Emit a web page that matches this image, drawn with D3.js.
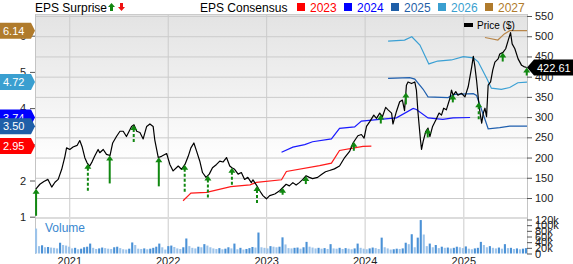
<!DOCTYPE html>
<html>
<head>
<meta charset="utf-8">
<script src="https://cdn.jsdelivr.net/npm/d3@7"></script>
<style>
body { margin: 0; background: #fff; }
svg text { font-family: "Liberation Sans", Arial, sans-serif; }
</style>
</head>
<body>
<div id="chart"></div>
<script>
///////////////////////////////////////////////////////////////
// Data
///////////////////////////////////////////////////////////////

var priceTicks = [100, 150, 200, 250, 300, 350, 400, 450, 500, 550];
var epsTicks = [1, 2, 3, 4, 5, 6];
var volumeTicks = [0, 20, 40, 60, 80, 100, 120];
var seriesYears = ['2023', '2024', '2025', '2026', '2027'];

var price = [
['2020-08-30', 122], ['2020-09-14', 134], ['2020-09-29', 141], ['2020-10-14', 146], ['2020-10-28', 127],
['2020-11-09', 139], ['2020-11-21', 146], ['2020-12-04', 171], ['2020-12-16', 203], ['2020-12-22', 224],
['2021-01-03', 220], ['2021-01-15', 226], ['2021-01-30', 230], ['2021-02-09', 242], ['2021-02-18', 226],
['2021-02-28', 199], ['2021-03-08', 187], ['2021-03-18', 179], ['2021-03-27', 190], ['2021-04-05', 203],
['2021-04-18', 220], ['2021-04-24', 212], ['2021-05-07', 220], ['2021-05-19', 208], ['2021-06-01', 205],
['2021-06-11', 236], ['2021-06-25', 252], ['2021-07-08', 265], ['2021-07-20', 265], ['2021-08-01', 252],
['2021-08-20', 277], ['2021-08-29', 281], ['2021-09-08', 265], ['2021-09-20', 262], ['2021-10-02', 246],
['2021-10-15', 277], ['2021-10-27', 283], ['2021-11-08', 277], ['2021-11-14', 244], ['2021-11-27', 200],
['2021-12-09', 203], ['2021-12-28', 210], ['2022-01-09', 183], ['2022-01-21', 167], ['2022-02-09', 179],
['2022-02-21', 171], ['2022-03-06', 183], ['2022-03-18', 203], ['2022-03-28', 224], ['2022-04-08', 236],
['2022-04-18', 216], ['2022-04-30', 191], ['2022-05-10', 163], ['2022-05-23', 151], ['2022-06-04', 159],
['2022-06-16', 175], ['2022-07-01', 183], ['2022-07-13', 191], ['2022-07-25', 189], ['2022-08-07', 200],
['2022-08-19', 179], ['2022-08-27', 175], ['2022-09-06', 171], ['2022-09-19', 159], ['2022-10-01', 163],
['2022-10-13', 146], ['2022-10-25', 151], ['2022-11-07', 138], ['2022-11-13', 145], ['2022-11-26', 132],
['2022-12-08', 118], ['2022-12-20', 106], ['2023-01-02', 98], ['2023-01-14', 106], ['2023-02-02', 110],
['2023-02-20', 118], ['2023-03-04', 126], ['2023-03-16', 134], ['2023-03-28', 130], ['2023-04-10', 138],
['2023-04-22', 132], ['2023-05-04', 138], ['2023-05-17', 146], ['2023-05-29', 155], ['2023-06-10', 151],
['2023-06-22', 148], ['2023-07-11', 151], ['2023-07-25', 158], ['2023-08-09', 165], ['2023-08-24', 168],
['2023-09-11', 172], ['2023-09-30', 179], ['2023-10-19', 200], ['2023-11-07', 216], ['2023-11-19', 236],
['2023-12-07', 254], ['2023-12-20', 257], ['2023-12-30', 248], ['2024-01-08', 277], ['2024-01-20', 289],
['2024-02-04', 305], ['2024-02-14', 297], ['2024-02-26', 310], ['2024-03-07', 301], ['2024-03-19', 324],
['2024-03-28', 318], ['2024-04-10', 310], ['2024-04-15', 283], ['2024-04-28', 314], ['2024-05-10', 338],
['2024-05-20', 342], ['2024-05-28', 316], ['2024-06-04', 379], ['2024-06-10', 387], ['2024-06-23', 383],
['2024-07-05', 387], ['2024-07-11', 367], ['2024-07-17', 310], ['2024-07-26', 244], ['2024-07-30', 220],
['2024-08-05', 240], ['2024-08-15', 265], ['2024-08-23', 273], ['2024-08-30', 252], ['2024-09-09', 277],
['2024-09-21', 293], ['2024-10-03', 310], ['2024-10-12', 305], ['2024-10-20', 322], ['2024-10-30', 318],
['2024-11-12', 346], ['2024-11-18', 367], ['2024-11-24', 354], ['2024-12-04', 363], ['2024-12-12', 354],
['2024-12-25', 359], ['2025-01-07', 350], ['2025-01-19', 375], ['2025-02-01', 424], ['2025-02-07', 450],
['2025-02-13', 424], ['2025-02-19', 391], ['2025-02-28', 330], ['2025-03-04', 310], ['2025-03-10', 285],
['2025-03-16', 310], ['2025-03-22', 322], ['2025-03-28', 301], ['2025-04-03', 379], ['2025-04-12', 387],
['2025-04-20', 416], ['2025-04-28', 436], ['2025-05-10', 444], ['2025-05-16', 456], ['2025-05-28', 460],
['2025-06-07', 469], ['2025-06-16', 489], ['2025-06-25', 509], ['2025-07-01', 481], ['2025-07-11', 469],
['2025-07-23', 444], ['2025-08-05', 428], ['2025-08-13', 425], ['2025-08-24', 422.61]
];

var eps2023 = [
['2022-02-27', 1.44], ['2022-03-28', 1.65], ['2022-05-25', 1.67], ['2022-08-23', 1.83], ['2022-11-02', 1.88],
['2022-11-26', 1.95], ['2023-02-27', 2.02], ['2023-03-17', 2.25], ['2023-07-18', 2.41], ['2023-08-31', 2.48],
['2023-09-30', 2.83], ['2023-12-26', 2.94], ['2024-01-26', 2.95]
];
var eps2024 = [
['2023-02-27', 2.78], ['2023-04-10', 2.92], ['2023-05-24', 2.99], ['2023-06-22', 3.07], ['2023-08-31', 3.15],
['2023-09-30', 3.44], ['2023-11-25', 3.48], ['2023-12-20', 3.64], ['2024-02-26', 3.69], ['2024-04-28', 3.73],
['2024-06-29', 3.99], ['2024-07-11', 3.96], ['2024-08-23', 3.73], ['2024-10-17', 3.69], ['2024-11-24', 3.73],
['2025-01-26', 3.74]
];
var eps2025 = [
['2024-03-28', 4.82], ['2024-06-16', 4.84], ['2024-07-05', 4.80], ['2024-08-05', 4.52], ['2024-08-23', 4.31],
['2024-11-05', 4.29], ['2024-11-30', 4.38], ['2025-02-07', 4.40], ['2025-02-19', 4.35], ['2025-03-22', 3.69],
['2025-04-03', 3.43], ['2025-05-16', 3.46], ['2025-06-22', 3.50], ['2025-08-25', 3.50]
];
var eps2026 = [
['2024-03-28', 5.85], ['2024-05-28', 5.88], ['2024-06-24', 5.97], ['2024-07-24', 5.74], ['2024-08-26', 5.22],
['2024-09-28', 5.30], ['2024-11-18', 5.33], ['2025-01-01', 5.42], ['2025-02-07', 5.39], ['2025-02-25', 5.28],
['2025-03-29', 4.82], ['2025-04-15', 4.55], ['2025-05-22', 4.52], ['2025-06-22', 4.57], ['2025-07-22', 4.70],
['2025-08-25', 4.72]
];
var eps2027 = [
['2025-03-22', 5.95], ['2025-05-09', 5.88], ['2025-06-02', 6.05], ['2025-06-22', 6.14], ['2025-08-25', 6.14]
];

// quarterly EPS surprise (%), all beats
var surpriseDates = ['2020-08-31', '2021-03-11', '2021-05-31', '2021-08-28', '2021-11-29', '2022-03-05',
'2022-05-30', '2022-08-27', '2022-11-28', '2023-03-03', '2023-05-28', '2023-11-22', '2024-03-01',
'2024-06-02', '2024-08-22', '2024-11-23', '2025-02-27', '2025-05-27', '2025-08-24'];
var surpriseValues = [27, 28, 28, 18, 29, 28, 23, 18, 17, 7, 8, 9, 9, 12, 9, 8, 18, 9, 8];
var surpriseRevised = [false, true, false, true, false, true, true, true, true, false, false, false, false,
false, false, false, true, false, false];

// volume in thousands
var volume = [
88, 26, 29, 22, 23, 21, 20, 18, 38, 30, 28, 24, 18, 20, 15, 17, 22, 24, 35, 20,
16, 18, 21, 19, 17, 16, 22, 24, 19, 15, 14, 17, 39, 30, 17, 16, 18, 15, 17, 20,
24, 35, 22, 14, 26, 28, 23, 18, 16, 22, 53, 26, 20, 18, 24, 22, 33, 28, 22, 18,
16, 19, 15, 17, 22, 18, 35, 15, 20, 14, 16, 19, 23, 21, 74, 22, 20, 18, 26, 24,
22, 24, 57, 32, 19, 18, 20, 21, 17, 22, 41, 24, 21, 18, 20, 17, 19, 16, 33, 18,
17, 20, 16, 19, 17, 15, 18, 35, 20, 17, 15, 18, 21, 19, 16, 56, 22, 18, 14, 15,
17, 16, 18, 38, 33, 68, 22, 56, 118, 67, 26, 35, 22, 30, 19, 24, 20, 21, 18, 20,
24, 22, 19, 25, 17, 15, 18, 20, 41, 30, 22, 26, 20, 18, 21, 17, 33, 19, 20, 16,
18, 15, 17, 19
];
var volumeStart = '2020-08-27', volumeEnd = '2025-08-25';

///////////////////////////////////////////////////////////////
// Setup
///////////////////////////////////////////////////////////////

var W = 573, H = 264;
var plotLeft = 35, plotRight = 527, plotTop = 14, mainBottom = 217, volBottom = 254;
var width = plotRight - plotLeft;

var colors = { '2023': '#ff1a1a', '2024': '#1a1aff', '2025': '#1f5fae', '2026': '#3ba0d4', '2027': '#b8864a' };
var badgeColors = { '2023': '#ff0000', '2024': '#0000ff', '2025': '#1f5fa8', '2026': '#3a9fd0', '2027': '#b07b2c' };
var epsSeries = { '2023': eps2023, '2024': eps2024, '2025': eps2025, '2026': eps2026, '2027': eps2027 };

var parse = d3.timeParse('%Y-%m-%d');

var x = d3.scaleTime()
    .domain([parse('2020-08-27'), parse('2025-08-25')])
    .range([plotLeft, plotRight]);
var yPrice = d3.scaleLinear().domain([100, 550]).range([198, 16]);
var yEps = d3.scaleLinear().domain([1, 6]).range([216.7, 35.7]);
var yVol = d3.scaleLinear().domain([0, 120]).range([253.5, 219.5]);
var arrowLen = d3.scaleLinear().domain([0, 30]).range([0, 30]);

var svg = d3.select('#chart').append('svg')
    .attr('width', W)
    .attr('height', H);

var defs = svg.append('defs');
var grad = defs.append('linearGradient')
    .attr('id', 'bg')
    .attr('x1', 0).attr('x2', 0).attr('y1', 0).attr('y2', 1);
grad.append('stop').attr('offset', '0%').attr('stop-color', '#e3e3e3');
grad.append('stop').attr('offset', '75%').attr('stop-color', '#ffffff');

defs.append('clipPath').attr('id', 'clip')
    .append('rect')
    .attr('x', plotLeft).attr('y', plotTop)
    .attr('width', width).attr('height', mainBottom - plotTop);

///////////////////////////////////////////////////////////////
// Background and grid
///////////////////////////////////////////////////////////////

svg.append('rect')
    .attr('x', plotLeft).attr('y', plotTop)
    .attr('width', width).attr('height', mainBottom - plotTop)
    .attr('fill', 'url(#bg)');

svg.append('g')
    .attr('transform', 'translate(' + plotLeft + ',0)')
    .call(d3.axisLeft(yPrice).tickValues(priceTicks).tickSize(-width).tickFormat(''))
    .call(g => g.select('.domain').remove())
    .selectAll('line').attr('stroke', '#cbcbcb');

svg.append('g')
    .attr('transform', 'translate(0,' + volBottom + ')')
    .call(d3.axisBottom(x).ticks(d3.timeYear.every(1)).tickSize(-(volBottom - plotTop)).tickFormat(''))
    .call(g => g.select('.domain').remove())
    .selectAll('line').attr('stroke', '#cbcbcb');

// panel borders
svg.append('rect')
    .attr('x', plotLeft).attr('y', mainBottom)
    .attr('width', width).attr('height', 2)
    .attr('fill', '#dcdcdc');
svg.append('line')
    .attr('x1', plotLeft).attr('x2', plotRight).attr('y1', plotTop + 0.5).attr('y2', plotTop + 0.5)
    .attr('stroke', '#cbcbcb');
[plotLeft, plotRight].forEach(function (px) {
    svg.append('line')
        .attr('x1', px + 0.5).attr('x2', px + 0.5).attr('y1', plotTop).attr('y2', volBottom)
        .attr('stroke', '#c4c4c4');
});

///////////////////////////////////////////////////////////////
// Volume
///////////////////////////////////////////////////////////////

var xVol = d3.scaleBand()
    .domain(d3.range(volume.length))
    .range([x(parse(volumeStart)), x(parse(volumeEnd))])
    .paddingInner(0.3);

svg.selectAll('.vol')
    .data(volume)
    .enter()
    .append('rect')
    .attr('class', 'vol')
    .attr('x', (d, i) => xVol(i))
    .attr('y', d => yVol(d))
    .attr('width', xVol.bandwidth())
    .attr('height', d => yVol(0) - yVol(d))
    .attr('fill', (d, i) => i > 0 && d > volume[i - 1] ? '#4a91d6' : '#9cc3ea');

svg.append('text')
    .attr('x', 45).attr('y', 232)
    .attr('font-size', 12)
    .attr('fill', '#3a88d0')
    .text('Volume');

///////////////////////////////////////////////////////////////
// EPS consensus lines and price
///////////////////////////////////////////////////////////////

var plot = svg.append('g').attr('clip-path', 'url(#clip)');

var epsLine = d3.line()
    .x(d => x(parse(d[0])))
    .y(d => yEps(d[1]));

seriesYears.forEach(function (yr) {
    plot.append('path')
        .datum(epsSeries[yr])
        .attr('d', epsLine)
        .attr('fill', 'none')
        .attr('stroke', colors[yr])
        .attr('stroke-width', 1.2);
});

var priceLine = d3.line()
    .x(d => x(parse(d[0])))
    .y(d => yPrice(d[1]));

plot.append('path')
    .datum(price)
    .attr('d', priceLine)
    .attr('fill', 'none')
    .attr('stroke', '#000')
    .attr('stroke-width', 1.2)
    .attr('stroke-linejoin', 'round');

// surprise arrows, tip sits on the price line
var bisect = d3.bisector(d => parse(d[0])).left;
function priceAt(date) {
    var i = bisect(price, date);
    if (i <= 0) return price[0][1];
    if (i >= price.length) return price[price.length - 1][1];
    var a = price[i - 1], b = price[i];
    var t = (date - parse(a[0])) / (parse(b[0]) - parse(a[0]));
    return a[1] + (b[1] - a[1]) * t;
}

surpriseDates.forEach(function (ds, i) {
    var dt = parse(ds);
    var px = x(dt);
    var tip = yPrice(priceAt(dt));
    var base = tip + arrowLen(surpriseValues[i]);
    svg.append('line')
        .attr('x1', px).attr('x2', px)
        .attr('y1', tip + 4).attr('y2', base)
        .attr('stroke', '#118811')
        .attr('stroke-width', 2)
        .attr('stroke-dasharray', surpriseRevised[i] ? '3,2' : null);
    svg.append('path')
        .attr('d', 'M' + px + ',' + tip + 'L' + (px + 3.5) + ',' + (tip + 5) + 'L' + (px - 3.5) + ',' + (tip + 5) + 'Z')
        .attr('fill', '#118811');
});

///////////////////////////////////////////////////////////////
// Axes
///////////////////////////////////////////////////////////////

function styleAxis(g) {
    g.select('.domain').remove();
    g.selectAll('line').attr('stroke', '#555');
    g.selectAll('text').attr('font-size', 11).attr('fill', '#222')
        .attr('font-family', '"Liberation Sans", Arial, sans-serif');
}

svg.append('g')
    .attr('transform', 'translate(' + plotRight + ',0)')
    .call(d3.axisRight(yPrice).tickValues(priceTicks).tickSize(5).tickPadding(3))
    .call(styleAxis);

svg.append('g')
    .attr('transform', 'translate(' + plotLeft + ',0)')
    .call(d3.axisLeft(yEps).tickValues(epsTicks).tickSize(5).tickPadding(4).tickFormat(d3.format('d')))
    .call(styleAxis);

svg.append('g')
    .attr('transform', 'translate(' + plotRight + ',0)')
    .call(d3.axisRight(yVol).tickValues(volumeTicks).tickSize(5).tickPadding(3)
        .tickFormat(d => d ? d + 'k' : '0'))
    .call(styleAxis);

svg.append('g')
    .attr('transform', 'translate(0,' + volBottom + ')')
    .call(d3.axisBottom(x).ticks(d3.timeYear.every(1)).tickSize(0).tickPadding(3)
        .tickFormat(d3.timeFormat('%Y')))
    .call(styleAxis);

///////////////////////////////////////////////////////////////
// Value badges
///////////////////////////////////////////////////////////////

seriesYears.forEach(function (yr) {
    var s = epsSeries[yr];
    var v = s[s.length - 1][1];
    var cy = yEps(v);
    svg.append('path')
        .attr('d', 'M0,' + (cy - 8) + 'H31L35,' + cy + 'L31,' + (cy + 8) + 'H0Z')
        .attr('fill', badgeColors[yr]);
    svg.append('text')
        .attr('x', 3).attr('y', cy + 4)
        .attr('font-size', 11)
        .attr('fill', '#fff')
        .text(v.toFixed(2));
});

var lastPrice = price[price.length - 1][1];
var py = yPrice(lastPrice);
svg.append('path')
    .attr('d', 'M' + plotRight + ',' + py + 'L' + (plotRight + 7) + ',' + (py - 8) + 'H573V' + (py + 8) + 'H' + (plotRight + 7) + 'Z')
    .attr('fill', '#000');
svg.append('text')
    .attr('x', 537).attr('y', py + 4)
    .attr('font-size', 11)
    .attr('fill', '#fff')
    .text(lastPrice.toFixed(2));

///////////////////////////////////////////////////////////////
// Legend
///////////////////////////////////////////////////////////////

svg.append('text')
    .attr('x', 35).attr('y', 11.5)
    .attr('font-size', 12)
    .text('EPS Surprise');
svg.append('path')
    .attr('d', 'M111.5,3L115,7H113V11H110V7H108Z')
    .attr('fill', '#118811');
svg.append('path')
    .attr('d', 'M121.5,11L125,7H123V3H120V7H118Z')
    .attr('fill', '#ee1111');

svg.append('text')
    .attr('x', 200).attr('y', 11.5)
    .attr('font-size', 12)
    .text('EPS Consensus');

var legendX = d3.scalePoint().domain(seriesYears).range([297, 485]);
seriesYears.forEach(function (yr) {
    svg.append('rect')
        .attr('x', legendX(yr)).attr('y', 3)
        .attr('width', 8).attr('height', 8)
        .attr('fill', badgeColors[yr]);
    svg.append('text')
        .attr('x', legendX(yr) + 13).attr('y', 11.5)
        .attr('font-size', 12)
        .attr('fill', badgeColors[yr])
        .text(yr);
});

svg.append('rect')
    .attr('x', 464).attr('y', 23)
    .attr('width', 9).attr('height', 4)
    .attr('fill', '#000');
svg.append('text')
    .attr('x', 477).attr('y', 29)
    .attr('font-size', 10)
    .text('Price ($)');
</script>
</body>
</html>
